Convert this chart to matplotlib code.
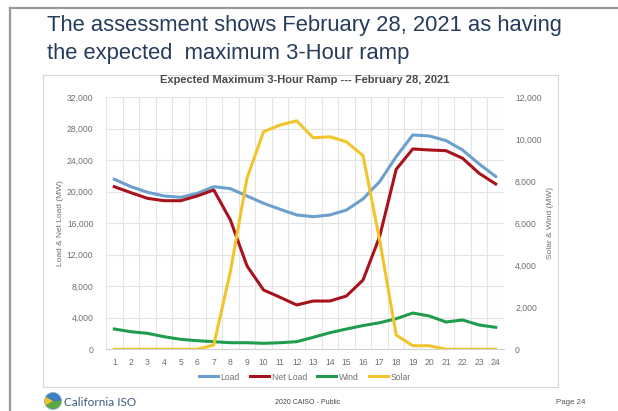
import matplotlib
matplotlib.use("Agg")
import matplotlib.pyplot as plt
from matplotlib.patches import Rectangle, Wedge, Circle
from matplotlib.lines import Line2D

plt.rcParams['font.family'] = ['Liberation Sans', 'DejaVu Sans']

# ---- data -------------------------------------------------------------
hours = list(range(1, 25))
load = [21600, 20650, 19940, 19470, 19300, 19800, 20650, 20400, 19470, 18540,
        17780, 17060, 16840, 17060, 17690, 19100, 21290, 24460, 27220, 27090,
        26500, 25310, 23530, 21950]
net_load = [20650, 19890, 19170, 18870, 18870, 19470, 20230, 16420, 10600, 7530,
            6600, 5630, 6130, 6130, 6770, 8800, 14300, 22860, 25440, 25310,
            25220, 24260, 22350, 20990]
wind = [966, 838, 760, 600, 476, 410, 362, 314, 314, 285,
        314, 362, 571, 790, 966, 1130, 1266, 1457, 1728, 1585,
        1300, 1395, 1157, 1047]
solar = [0, 0, 0, 0, 0, 0, 205, 3700, 8140, 10360,
         10680, 10880, 10070, 10120, 9880, 9220, 5200, 680, 170, 170,
         0, 0, 0, 0]

left_ticks = [0, 4000, 8000, 12000, 16000, 20000, 24000, 28000, 32000]
right_ticks = [0, 2000, 4000, 6000, 8000, 10000, 12000]

c_load = '#6b9fcd'
c_net = '#a8121c'
c_wind = '#1f9d4c'
c_solar = '#f2c42c'
tick_grey = '#6f6f6f'
grid_grey = '#e4e4e4'

W, H = 618, 411
fig = plt.figure(figsize=(W / 100, H / 100), dpi=100)
fig.patch.set_facecolor('white')

def fx(px):
    return px / W

def fy(py):
    return 1 - py / H

# slide frame
fig.add_artist(Line2D([fx(10), fx(10)], [fy(8), fy(411)], color='#9a9a9a', lw=1.6))
fig.add_artist(Line2D([fx(10), fx(618)], [fy(8), fy(8)], color='#9a9a9a', lw=1.6))

# slide heading
fig.text(fx(47), fy(31), 'The assessment shows February 28, 2021 as having',
         fontsize=15.8, color='#253c5c', va='baseline', ha='left')
fig.text(fx(47), fy(59), 'the expected  maximum 3-Hour ramp',
         fontsize=15.8, color='#253c5c', va='baseline', ha='left')

# chart frame (kept behind the axes)
frame = Rectangle((fx(43), fy(387)), fx(558) - fx(43), fy(75) - fy(387),
                  transform=fig.transFigure, facecolor='white',
                  edgecolor='#d6d6d6', lw=0.8, zorder=-10)
fig.patches.append(frame)
fig.text(fx(305), fy(80), 'Expected Maximum 3-Hour Ramp --- February 28, 2021',
         fontsize=8, fontweight='bold', color='#4a4a4a', ha='center', va='center')

# plot area
ax = fig.add_axes([fx(106), fy(349.3), fx(504) - fx(106), fy(97.3) - fy(349.3)])
ax.set_facecolor('none')
ax.set_xlim(0.5, 24.5)
ax.set_ylim(0, 32000)
ax.set_yticks(left_ticks)
ax.set_yticklabels([f'{v:,}' for v in left_ticks])
ax.set_xticks(hours)
ax.set_xticklabels([str(h) for h in hours])
ax.set_xticks([h + 0.5 for h in range(0, 25)], minor=True)
ax.grid(True, which='major', axis='y', color=grid_grey, lw=0.8)
ax.grid(True, which='minor', axis='x', color=grid_grey, lw=0.8)
ax.tick_params(axis='both', which='both', length=0, colors=tick_grey, labelsize=6.2)
ax.tick_params(axis='y', pad=9)
ax.tick_params(axis='x', pad=6)
for s in ['top', 'right', 'left']:
    ax.spines[s].set_visible(False)
ax.spines['bottom'].set_color('#d0d0d0')
ax.set_axisbelow(True)
ax.set_ylabel('Load & Net Load (MW)', fontsize=6, color=tick_grey, labelpad=2)

ax2 = ax.twinx()
ax2.set_ylim(0, 12000)
ax2.set_yticks(right_ticks)
ax2.set_yticklabels([f'{v:,}' for v in right_ticks])
ax2.tick_params(axis='y', length=0, colors=tick_grey, labelsize=6.2, pad=8)
for s in ['top', 'right', 'left', 'bottom']:
    ax2.spines[s].set_visible(False)
ax2.set_ylabel('Solar & Wind (MW)', fontsize=6, color=tick_grey, labelpad=4)

lw = 2.2
l1, = ax.plot(hours, load, color=c_load, lw=lw, solid_joinstyle='round', label='Load', zorder=3)
l2, = ax.plot(hours, net_load, color=c_net, lw=lw, solid_joinstyle='round', label='Net Load', zorder=3)
l3, = ax2.plot(hours, wind, color=c_wind, lw=lw, solid_joinstyle='round', label='Wind', zorder=3)
l4, = ax2.plot(hours, solar, color=c_solar, lw=lw, solid_joinstyle='round', label='Solar', zorder=3)

leg = fig.legend([l1, l2, l3, l4], ['Load', 'Net Load', 'Wind', 'Solar'],
                 loc='center', bbox_to_anchor=(fx(305), fy(377)), ncol=4,
                 frameon=False, fontsize=6.2, handlelength=2.2, handletextpad=0.3,
                 columnspacing=1.2, labelcolor=tick_grey)

# footer
logo = fig.add_axes([fx(44), fy(410), fx(18), (fy(392) - fy(410))])
logo.set_xlim(-1, 1)
logo.set_ylim(-1, 1)
logo.set_aspect('equal')
logo.axis('off')
logo.add_patch(Wedge((0, 0), 0.95, 0, 180, facecolor='#3c7fc0'))
logo.add_patch(Wedge((0, 0), 0.95, 180, 360, facecolor='#5aa845'))
logo.add_patch(Wedge((0, 0), 0.95, 150, 210, facecolor='#f3c21c'))
logo.add_patch(Circle((0, 0), 0.95, fill=False, ec='#9bb7cf', lw=0.6))

fig.text(fx(64), fy(402), 'California ISO', fontsize=8.5, color='#3f5c7c',
         ha='left', va='center', family=['Lato', 'DejaVu Sans'])
fig.text(fx(308), fy(402), '2020 CAISO - Public', fontsize=5, color='#444444',
         ha='center', va='center')
fig.text(fx(585), fy(402), 'Page 24', fontsize=5.7, color='#555555',
         ha='right', va='center')

fig.savefig('out.png', dpi=100, facecolor='white')
